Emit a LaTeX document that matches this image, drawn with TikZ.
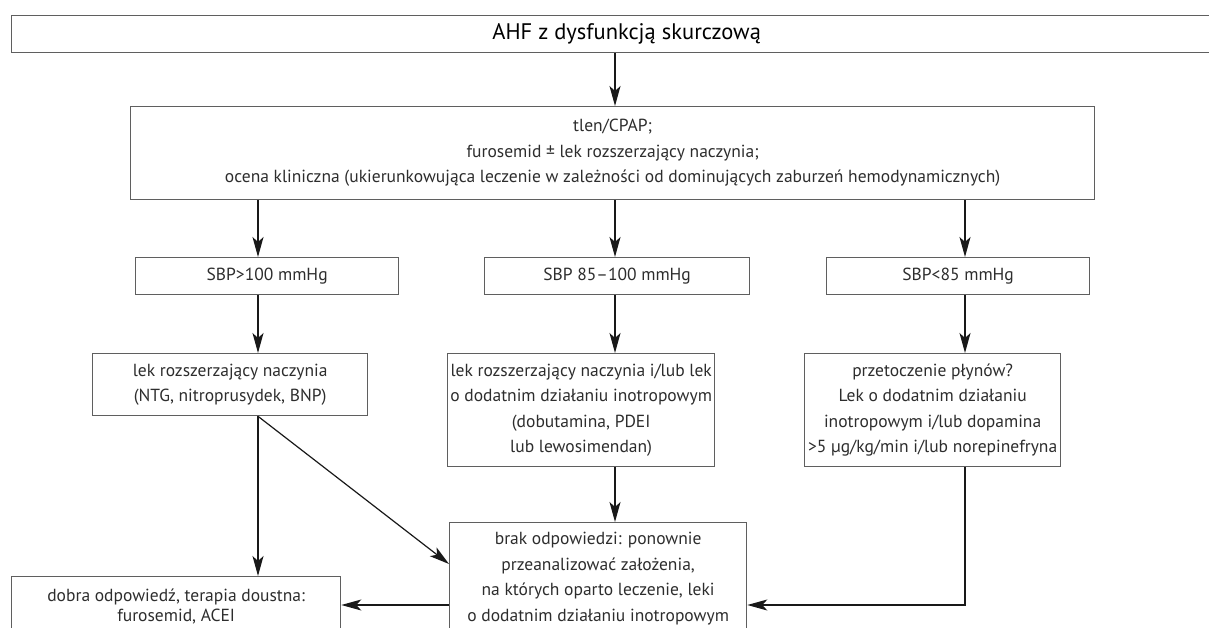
\documentclass[tikz,border=0pt]{standalone}
\usepackage{fontspec}
\setmainfont{PT Sans}
\definecolor{colframe}{RGB}{95,95,95}
\definecolor{coltext}{RGB}{45,45,45}
\definecolor{colarrow}{RGB}{25,25,25}
\usetikzlibrary{
	arrows.meta,
	positioning
}
\tikzset{
	>={Stealth[length=20pt, width=11pt, inset=5pt]},
	flowbox/.style={draw=colframe, line width=1.3pt, text=coltext, align=center,
		inner sep=0pt, anchor=north west, font=\fontsize{17.5}{25.5}\selectfont},
	flowarrow/.style={->, draw=colarrow, line width=1.2pt}
}

\begin{document}
\begin{tikzpicture}[x=1pt, y=-1pt]
	\useasboundingbox (0,0) rectangle (1209,628);
	\clip (0,0) rectangle (1209,628);

	\node[flowbox, minimum width=1230pt, minimum height=37pt,
		font=\fontsize{22.5}{25}\selectfont, text=black] (title) at (11,15) {AHF z dysfunkcją skurczową};
	\node[flowbox, minimum width=964pt, minimum height=93pt] (care) at (130,106)
		{tlen/CPAP;\\ furosemid ± lek rozszerzający naczynia;\\ ocena kliniczna (ukierunkowująca leczenie w zależności od dominujących zaburzeń hemodynamicznych)};

	\node[flowbox, minimum width=263pt, minimum height=37pt] (sbphigh) at (135,257) {SBP>100 mmHg};
	\node[flowbox, minimum width=265pt, minimum height=37pt] (sbpmid) at (484,257) {SBP 85–100 mmHg};
	\node[flowbox, minimum width=263pt, minimum height=37pt] (sbplow) at (826,257) {SBP<85 mmHg};

	\node[flowbox, minimum width=275pt, minimum height=62pt] (vaso) at (92,353)
		{lek rozszerzający naczynia\\ (NTG, nitroprusydek, BNP)};
	\node[flowbox, minimum width=267pt, minimum height=113pt] (inotrop) at (447,353)
		{lek rozszerzający naczynia i/lub lek\\ o dodatnim działaniu inotropowym\\ (dobutamina, PDEI\\ lub lewosimendan)};
	\node[flowbox, minimum width=256pt, minimum height=113pt] (fluids) at (804,353)
		{przetoczenie płynów?\\ Lek o dodatnim działaniu\\ inotropowym i/lub dopamina\\ >5 µg/kg/min i/lub norepinefryna};

	\node[flowbox, minimum width=297pt, minimum height=130pt] (noresp) at (449,522)
		{\\[-9pt]brak odpowiedzi: ponownie\\ przeanalizować założenia,\\ na których oparto leczenie, leki\\ o dodatnim działaniu inotropowym\\ \mbox{}};
	\node[flowbox, minimum width=329pt, inner ysep=6pt, minimum height=60pt,
		font=\fontsize{17.5}{20}\selectfont] (goodresp) at (11,576)
		{dobra odpowiedź, terapia doustna:\\ furosemid, ACEI};

	\coordinate (colL) at (258,0);
	\coordinate (colM) at (615,0);
	\coordinate (colR) at (965,0);
	\coordinate (rowB) at (0,605);

	\draw[flowarrow] (title.south -| colM) -- (care.north -| colM);
	\draw[flowarrow] (care.south -| colL) -- (sbphigh.north -| colL);
	\draw[flowarrow] (care.south -| colM) -- (sbpmid.north -| colM);
	\draw[flowarrow] (care.south -| colR) -- (sbplow.north -| colR);
	\draw[flowarrow] (sbphigh.south -| colL) -- (vaso.north -| colL);
	\draw[flowarrow] (sbpmid.south -| colM) -- (inotrop.north -| colM);
	\draw[flowarrow] (sbplow.south -| colR) -- (fluids.north -| colR);
	\draw[flowarrow] (vaso.south -| colL) -- (goodresp.north -| colL);
	\draw[flowarrow] (vaso.south -| colL) -- ([yshift=-42pt]noresp.north west);
	\draw[flowarrow] (inotrop.south -| colM) -- (noresp.north -| colM);
	\draw[flowarrow] (fluids.south -| colR) |- (noresp.east |- rowB);
	\draw[flowarrow] (noresp.west |- rowB) -- (goodresp.east |- rowB);
\end{tikzpicture}
\end{document}
